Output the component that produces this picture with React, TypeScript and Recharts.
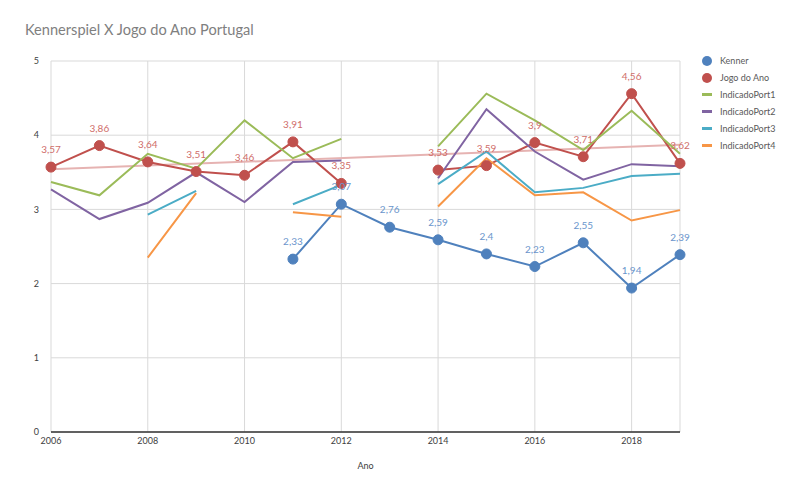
import React from 'react';
import { LineChart, Line, XAxis, YAxis, CartesianGrid, Legend, LabelList } from 'recharts';

const years = [2006, 2007, 2008, 2009, 2010, 2011, 2012, 2013, 2014, 2015, 2016, 2017, 2018, 2019];
const kenner = [null, null, null, null, null, 2.33, 3.07, 2.76, 2.59, 2.4, 2.23, 2.55, 1.94, 2.39];
const jogoDoAno = [3.57, 3.86, 3.64, 3.51, 3.46, 3.91, 3.35, null, 3.53, 3.59, 3.9, 3.71, 4.56, 3.62];
const port1 = [3.37, 3.19, 3.75, 3.55, 4.2, 3.69, 3.95, null, 3.85, 4.56, 4.2, 3.8, 4.33, 3.75];
const port2 = [3.27, 2.87, 3.09, 3.5, 3.1, 3.64, 3.66, null, 3.42, 4.35, 3.78, 3.4, 3.61, 3.58];
const port3 = [null, null, 2.93, 3.25, null, 3.07, 3.33, null, 3.34, 3.78, 3.23, 3.29, 3.45, 3.48];
const port4 = [null, null, 2.35, 3.22, null, 2.96, 2.9, null, 3.04, 3.69, 3.19, 3.23, 2.85, 2.99];
const trend = [3.54, null, null, null, null, null, null, null, null, null, null, null, null, 3.87];
const xTicks = [2006, 2008, 2010, 2012, 2014, 2016, 2018];
const yTicks = [0, 1, 2, 3, 4, 5];

const C_KENNER = '#4f81bd';
const C_JOGO = '#c0504d';
const C_P1 = '#9bbb59';
const C_P2 = '#8064a2';
const C_P3 = '#4bacc6';
const C_P4 = '#f79646';

const data = years.map((y, i) => ({
  year: y,
  kenner: kenner[i],
  jogo: jogoDoAno[i],
  p1: port1[i],
  p2: port2[i],
  p3: port3[i],
  p4: port4[i],
  trend: trend[i],
}));

const legendItems = [
  { name: 'Kenner', color: C_KENNER, type: 'circle' },
  { name: 'Jogo do Ano', color: C_JOGO, type: 'circle' },
  { name: 'IndicadoPort1', color: C_P1, type: 'line' },
  { name: 'IndicadoPort2', color: C_P2, type: 'line' },
  { name: 'IndicadoPort3', color: C_P3, type: 'line' },
  { name: 'IndicadoPort4', color: C_P4, type: 'line' },
];

const FONT = 'Lato, "Open Sans", sans-serif';

const makeLabel = (color: string) => (props: any) => {
  const { x, y, value } = props;
  if (value === null || value === undefined) return null;
  return (
    <text x={x} y={y - 14} fill={color} fontSize={10} fontFamily={FONT} textAnchor="middle">
      {String(value).replace('.', ',')}
    </text>
  );
};

const renderLegend = () => (
  <div style={{ fontFamily: FONT, fontSize: 9, color: '#595959' }}>
    {legendItems.map((it) => (
      <div key={it.name} style={{ display: 'flex', alignItems: 'center', height: 17 }}>
        <div style={{ width: 16, display: 'flex', justifyContent: 'center' }}>
          {it.type === 'circle' ? (
            <div style={{ width: 10, height: 10, borderRadius: 5, background: it.color }} />
          ) : (
            <div style={{ width: 10, height: 3, background: it.color }} />
          )}
        </div>
        <span style={{ marginLeft: 5 }}>{it.name}</span>
      </div>
    ))}
  </div>
);

export default function App() {
  return (
    <div style={{ position: 'relative', width: 784, height: 479 }}>
      <div
        style={{
          position: 'absolute',
          left: 17,
          top: 13,
          fontFamily: FONT,
          fontSize: 14.6,
          color: '#7f7f7f',
          whiteSpace: 'nowrap',
        }}
      >
        Kennerspiel X Jogo do Ano Portugal
      </div>
      <LineChart width={784} height={479} data={data} margin={{ top: 53, right: 112, bottom: 18, left: 0 }}>
        <CartesianGrid stroke="#d9d9d9" strokeWidth={1} />
        <XAxis
          dataKey="year"
          type="number"
          domain={[2006, 2019]}
          ticks={xTicks}
          tickLine={false}
          tickSize={0}
          tickMargin={6}
          height={37}
          axisLine={{ stroke: '#333333', strokeWidth: 1.5 }}
          tick={{ fill: '#404040', fontSize: 9, fontFamily: FONT }}
          label={{ value: 'Ano', position: 'insideBottom', offset: 0, fill: '#404040', fontSize: 9, fontFamily: FONT }}
        />
        <YAxis
          domain={[0, 5]}
          ticks={yTicks}
          width={43}
          axisLine={false}
          tickLine={false}
          tickSize={0}
          tickMargin={12}
          tick={{ fill: '#404040', fontSize: 9, fontFamily: FONT }}
        />
        <Legend
          layout="vertical"
          align="center"
          verticalAlign="middle"
          content={renderLegend}
          wrapperStyle={{ left: 691, top: 44, width: 100 }}
        />
        <Line dataKey="trend" stroke="#e6b3b2" strokeWidth={2} dot={false} connectNulls isAnimationActive={false} legendType="none" />
        <Line dataKey="kenner" stroke={C_KENNER} strokeWidth={2} dot={{ r: 5, fill: C_KENNER, stroke: C_KENNER, strokeWidth: 1 }} isAnimationActive={false}>
          <LabelList dataKey="kenner" content={makeLabel('#6a95cc')} />
        </Line>
        <Line dataKey="jogo" stroke={C_JOGO} strokeWidth={2} dot={{ r: 5, fill: C_JOGO, stroke: C_JOGO, strokeWidth: 1 }} isAnimationActive={false}>
          <LabelList dataKey="jogo" content={makeLabel('#cf6d6a')} />
        </Line>
        <Line dataKey="p1" stroke={C_P1} strokeWidth={2} dot={false} isAnimationActive={false} />
        <Line dataKey="p2" stroke={C_P2} strokeWidth={2} dot={false} isAnimationActive={false} />
        <Line dataKey="p3" stroke={C_P3} strokeWidth={2} dot={false} isAnimationActive={false} />
        <Line dataKey="p4" stroke={C_P4} strokeWidth={2} dot={false} isAnimationActive={false} />
      </LineChart>
    </div>
  );
}
